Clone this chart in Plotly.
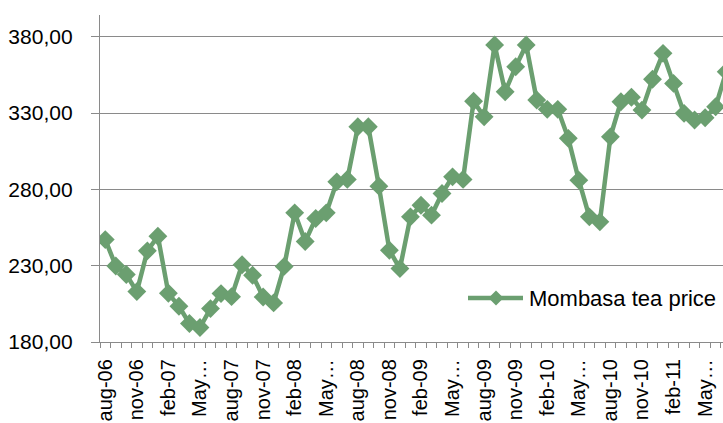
import plotly.graph_objects as go

# Monthly Mombasa tea auction price, Aug 2006 - Jul 2011
months = [
    "aug-06", "sep-06", "oct-06", "nov-06", "dec-06", "jan-07", "feb-07", "mar-07",
    "apr-07", "May-07", "jun-07", "jul-07", "aug-07", "sep-07", "oct-07", "nov-07",
    "dec-07", "jan-08", "feb-08", "mar-08", "apr-08", "May-08", "jun-08", "jul-08",
    "aug-08", "sep-08", "oct-08", "nov-08", "dec-08", "jan-09", "feb-09", "mar-09",
    "apr-09", "May-09", "jun-09", "jul-09", "aug-09", "sep-09", "oct-09", "nov-09",
    "dec-09", "jan-10", "feb-10", "mar-10", "apr-10", "May-10", "jun-10", "jul-10",
    "aug-10", "sep-10", "oct-10", "nov-10", "dec-10", "jan-11", "feb-11", "mar-11",
    "apr-11", "May-11", "jun-11", "jul-11",
]
prices = [
    247.1, 229.8, 224.2, 213.0, 239.7, 249.3, 211.9, 203.4,
    192.1, 189.5, 201.9, 211.7, 209.7, 230.6, 223.7, 209.5,
    205.6, 229.5, 264.6, 245.8, 260.9, 264.6, 284.9, 286.5,
    321.0, 321.0, 282.1, 240.1, 228.1, 262.0, 269.6, 263.1,
    277.3, 288.2, 286.5, 337.7, 327.5, 374.6, 343.9, 360.3,
    374.6, 338.5, 332.4, 332.4, 313.4, 286.0, 262.0, 258.7,
    314.4, 337.4, 340.3, 331.9, 352.1, 369.1, 349.4, 329.8,
    325.4, 326.9, 334.1, 357.0,
]
# every third month is labelled; long labels get truncated like the axis does
tick_labels = ["aug-06", "nov-06", "feb-07", "May…", "aug-07", "nov-07", "feb-08",
               "May…", "aug-08", "nov-08", "feb-09", "May…", "aug-09", "nov-09",
               "feb-10", "May…", "aug-10", "nov-10", "feb-11", "May…"]
y_ticks = [180, 230, 280, 330, 380]
series_name = "Mombasa tea price"

x_idx = list(range(len(months)))
tick_pos = x_idx[::3][:len(tick_labels)]

GREEN = "rgb(107,159,112)"
GRID = "#8a8a8a"
FONT = "Liberation Sans"

fig = go.Figure()
fig.add_trace(go.Scatter(
    x=x_idx, y=prices, mode="lines+markers", name=series_name,
    line=dict(color=GREEN, width=4.5),
    marker=dict(symbol="diamond", size=14.5, color=GREEN),
    customdata=months, hovertemplate="%{customdata}: %{y:.2f}<extra></extra>",
    showlegend=False,
))

# legend drawn in paper space: line sample, diamond and label
W, H = 723, 423
L, R, T, B = 100, 0, 15, 81
pw, ph = W - L - R, H - T - B
def px(x): return (x - L) / pw
def py(y): return (H - B - y) / ph

leg_y = py(298)
fig.add_shape(type="line", xref="paper", yref="paper",
              x0=px(468), x1=px(523), y0=leg_y, y1=leg_y,
              line=dict(color=GREEN, width=4.5))
fig.add_shape(type="path", xref="paper", yref="paper",
              xsizemode="pixel", ysizemode="pixel",
              xanchor=px(496), yanchor=leg_y,
              path="M -7.5 0 L 0 7.5 L 7.5 0 L 0 -7.5 Z",
              fillcolor=GREEN, line=dict(color=GREEN, width=0))
fig.add_annotation(text=series_name, xref="paper", yref="paper",
                   x=px(527), y=leg_y, xanchor="left", yanchor="middle",
                   showarrow=False, font=dict(family=FONT, size=22, color="#000"))

fig.update_layout(
    width=W, height=H,
    margin=dict(l=L, r=R, t=T, b=B, pad=0, autoexpand=False),
    paper_bgcolor="white", plot_bgcolor="white",
    separators=", ",
    font=dict(family=FONT, color="#000"),
)
fig.update_xaxes(
    range=[-0.5, 58.7], automargin=False,
    tickmode="array", tickvals=tick_pos, ticktext=tick_labels,
    tickangle=-90, tickfont=dict(family=FONT, size=20, color="#000"),
    ticks="outside", ticklen=5, tickcolor="rgba(0,0,0,0)",
    minor=dict(ticks="outside", ticklen=5, tick0=-0.5, dtick=1,
               tickcolor=GRID, tickwidth=1.2, showgrid=False),
    showgrid=False, zeroline=False,
    showline=True, linecolor=GRID, linewidth=1.4,
    ticklabelstandoff=3,
)
fig.update_yaxes(
    range=[180, 394.2], automargin=False,
    tickmode="array", tickvals=y_ticks, tickformat=".2f",
    tickfont=dict(family=FONT, size=21, color="#000"),
    ticks="outside", ticklen=8, tickcolor=GRID, tickwidth=1.4,
    showgrid=True, gridcolor=GRID, gridwidth=1.4,
    zeroline=False, showline=True, linecolor=GRID, linewidth=1.4,
    ticklabelstandoff=14,
)

fig.write_html("out.html")
